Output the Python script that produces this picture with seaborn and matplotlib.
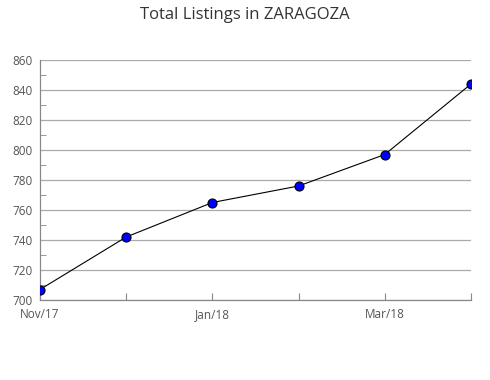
import matplotlib
matplotlib.use("Agg")
import matplotlib.pyplot as plt
import seaborn as sns
import pandas as pd
from matplotlib.ticker import MultipleLocator

months = ["Nov/17", "Dec/17", "Jan/18", "Feb/18", "Mar/18", "Apr/18"]
listings = [707, 742, 765, 776, 797, 844]
tick_labels = ["Nov/17", "", "Jan/18", "", "Mar/18", ""]

sns.set_style("white")
plt.rcParams['font.family'] = ['Open Sans', 'DejaVu Sans']

df = pd.DataFrame({"x": range(len(months)), "listings": listings})

fig = plt.figure(figsize=(4.9, 3.8), dpi=100)
ax = fig.add_axes([40/490, 1-300/380, (471-40)/490, 240/380])

sns.lineplot(data=df, x="x", y="listings", ax=ax, color="black", linewidth=0.8,
             marker="o", markersize=6.5, markerfacecolor="#0000ff",
             markeredgecolor="black", markeredgewidth=0.8, zorder=3)

ax.set_xlim(0, len(months) - 1)
ax.set_ylim(700, 860)
ax.yaxis.set_major_locator(MultipleLocator(20))
ax.yaxis.set_minor_locator(MultipleLocator(10))
ax.set_xticks(range(len(months)))
ax.set_xticklabels(tick_labels)
ax.grid(axis="y", which="major", color="#aaaaaa", linewidth=0.9)
ax.set_xlabel("")
ax.set_ylabel("")

for s in ["top", "right"]:
    ax.spines[s].set_visible(False)
for s in ["left", "bottom"]:
    ax.spines[s].set_color("#888888")
    ax.spines[s].set_linewidth(0.9)

ax.tick_params(axis="y", which="major", length=0, labelsize=8.5, labelcolor="#555555", pad=5)
ax.tick_params(axis="y", which="minor", direction="in", length=4, color="#888888", left=True)
ax.tick_params(axis="x", which="major", direction="in", length=5, color="#888888",
               labelsize=8.5, labelcolor="#555555", pad=6, bottom=True)
for lbl in ax.get_xticklabels():
    lbl.set_horizontalalignment("center")

fig.suptitle("Total Listings in ZARAGOZA", x=245/490, y=1-7/380, va="top",
             fontsize=12, color="#333333")

fig.savefig("out.png", dpi=100)
